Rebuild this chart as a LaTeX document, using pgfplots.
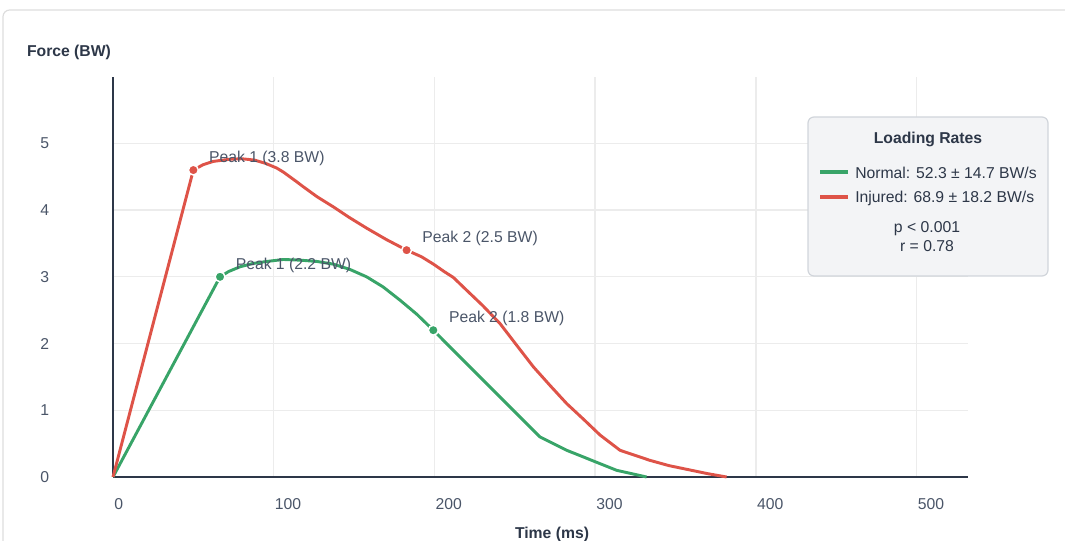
\documentclass[border=0pt]{standalone}
\usepackage{pgfplots}
\pgfplotsset{compat=1.18}
\usepackage{fontspec}
\setmainfont{Liberation Sans}

\definecolor{normalgreen}{RGB}{56,164,104}
\definecolor{injuredred}{RGB}{222,83,72}
\definecolor{axisdark}{RGB}{45,55,72}
\definecolor{gridgray}{RGB}{236,236,236}
\definecolor{ticktext}{RGB}{74,85,104}
\definecolor{legendfill}{RGB}{243,244,246}
\definecolor{legendborder}{RGB}{209,213,219}
\definecolor{cardborder}{RGB}{221,221,221}

\newcommand{\uifont}{\fontsize{11.8}{14}\selectfont}

\begin{document}
\begin{tikzpicture}
  % page = reference frame, 1px = 0.75pt, axis origin at (0,0)
  \useasboundingbox (-84.75pt,-48pt) rectangle (714pt,357.75pt);
  \draw[cardborder, line width=0.9pt, rounded corners=5pt]
    (-82.5pt,-70pt) rectangle (740pt,350.25pt);

  \begin{axis}[
      at={(0,0)}, anchor=south west,
      scale only axis,
      width=641.25pt, height=300.25pt,
      xmin=0, xmax=532, ymin=0, ymax=6,
      xtick={0,100,...,500}, ytick={0,1,...,5},
      axis x line*=bottom, axis y line*=left,
      axis line style={-, draw=axisdark, line width=2.2pt},
      major tick length=0pt,
      grid=major,
      grid style={draw=gridgray, line width=1pt},
      /pgf/number format/assume math mode=true,
      ticklabel style={font=\uifont, text=ticktext},
      xticklabel style={anchor=north west, inner sep=0pt, xshift=0.75pt, yshift=-15.75pt},
      yticklabel style={anchor=east, inner sep=0pt, xshift=-47.75pt},
      xlabel={Time (ms)},
      ylabel={Force (BW)},
      every axis x label/.style={at={(rel axis cs:0.5135,0)}, yshift=-42.75pt,
        anchor=center, font=\uifont\bfseries, text=axisdark},
      every axis y label/.style={at={(rel axis cs:-0.1006,1.0666)}, xshift=-3.5pt, yshift=-1.75pt,
        anchor=west, font=\uifont\bfseries, text=axisdark},
      clip=false,
    ]

    % Normal
    \addplot[normalgreen, line width=2.2pt, line join=round] coordinates {
      (0,0) (66.6,3.00) (72,3.08) (79,3.15) (87,3.20) (95.6,3.23) (106,3.26)
      (116.4,3.25) (127,3.23) (137.1,3.19) (147.5,3.11) (157.8,3.00)
      (168,2.85) (178.6,2.65) (189,2.44) (199.3,2.20) (220,1.70) (240.8,1.20)
      (265.7,0.60) (282.3,0.40) (292.7,0.30) (303,0.20) (313.4,0.10) (332,0)
    };

    % Injured
    \addplot[injuredred, line width=2.2pt, line join=round] coordinates {
      (0,0) (50,4.60) (56,4.68) (62.4,4.73) (72,4.76) (80,4.77) (88,4.75)
      (95,4.70) (101.9,4.63) (106,4.57) (110,4.50) (114,4.43) (118.4,4.35)
      (127,4.20) (137,4.05) (147,3.89) (157.8,3.73) (170,3.56) (182.7,3.40)
      (192,3.30) (199.4,3.19) (206,3.08) (211.8,2.99) (220,2.80) (230,2.57)
      (240.8,2.30) (251,1.98) (261.6,1.65) (272,1.37) (282.3,1.10) (293,0.86)
      (303,0.63) (315.5,0.40) (334,0.25) (346,0.17) (359,0.105) (370,0.05)
      (381.8,0)
    };

    % peak markers
    \addplot[only marks, mark=*, mark size=3.7pt,
      mark options={fill=normalgreen, draw=white, line width=1.1pt},
      nodes near coords, point meta=explicit symbolic,
      every node near coord/.append style={anchor=west, inner sep=0pt,
        xshift=11.25pt, yshift=8.6pt, font=\uifont, text=ticktext}]
      table[meta=label, row sep=\\, col sep=comma] {
        x,y,label\\
        66.6,3.00,Peak 1 (2.2 BW)\\
        199.3,2.20,Peak 2 (1.8 BW)\\
      };
    \addplot[only marks, mark=*, mark size=3.7pt,
      mark options={fill=injuredred, draw=white, line width=1.1pt},
      nodes near coords, point meta=explicit symbolic,
      every node near coord/.append style={anchor=west, inner sep=0pt,
        xshift=11.25pt, yshift=8.6pt, font=\uifont, text=ticktext}]
      table[meta=label, row sep=\\, col sep=comma] {
        x,y,label\\
        50,4.60,Peak 1 (3.8 BW)\\
        182.7,3.40,Peak 2 (2.5 BW)\\
      };
  \end{axis}

  % loading-rates box
  \draw[legendborder, fill=legendfill, line width=0.9pt, rounded corners=4.5pt]
    (521.25pt,150.75pt) rectangle (701.25pt,270pt);
  \node[font=\uifont\bfseries, text=axisdark] at (611.25pt,253pt) {Loading Rates};
  \draw[normalgreen, line width=3pt] (530.25pt,228.75pt) -- (551.25pt,228.75pt);
  \node[font=\uifont, text=axisdark, anchor=west, inner sep=0pt]
    at (556.5pt,228pt) {Normal: 52.3 ± 14.7 BW/s};
  \draw[injuredred, line width=3pt] (530.25pt,210pt) -- (551.25pt,210pt);
  \node[font=\uifont, text=axisdark, anchor=west, inner sep=0pt]
    at (556.5pt,209.25pt) {Injured: 68.9 ± 18.2 BW/s};
  \node[font=\uifont, text=axisdark] at (610.5pt,186.25pt) {p < 0.001};
  \node[font=\uifont, text=axisdark] at (610.5pt,173.25pt) {r = 0.78};
\end{tikzpicture}
\end{document}
